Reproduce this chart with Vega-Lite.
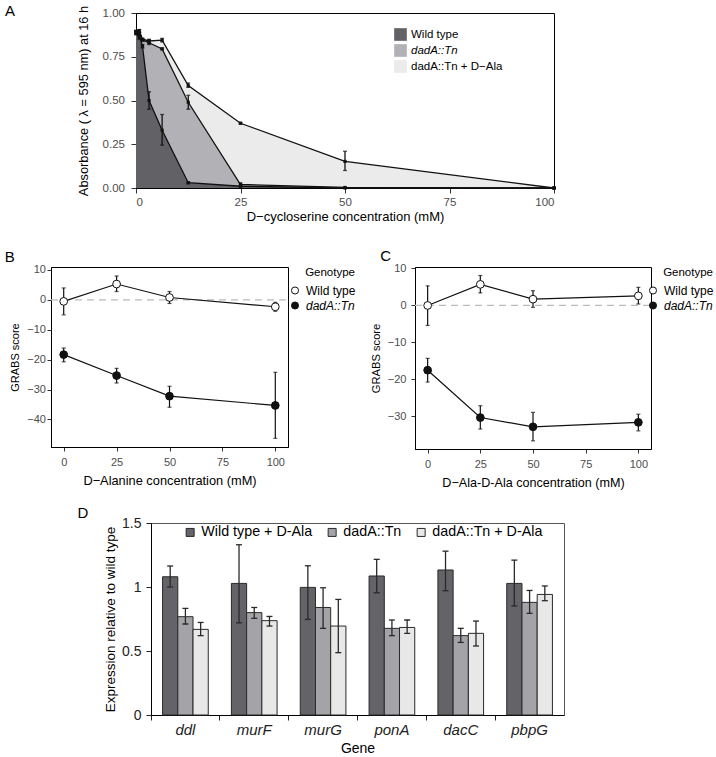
{
  "$schema": "https://vega.github.io/schema/vega-lite/v6.json",
  "background": "white",
  "padding": {"left": 3, "top": 3, "right": 0, "bottom": 0},
  "config": {
    "font": "Liberation Sans",
    "view": {"stroke": "black", "strokeWidth": 1},
    "axis": {"grid": false, "domainColor": "black", "tickColor": "#333333", "tickSize": 4, "labelColor": "#4d4d4d", "labelFontSize": 11, "titleFontSize": 12.8, "titleFontWeight": "normal", "titleColor": "black", "labelPadding": 3, "labelOverlap": false},
    "legend": {"titleFontWeight": "normal", "labelFontSize": 12, "titleFontSize": 11.5, "labelColor": "black", "padding": 0},
    "title": {"fontSize": 15, "fontWeight": "normal", "anchor": "start", "frame": "bounds"}
  },
  "resolve": {"scale": {"fill": "independent"}, "legend": {"fill": "independent"}},
  "spacing": 24,
  "vconcat": [
    {
      "resolve": {"scale": {"fill": "independent"}, "legend": {"fill": "independent"}},
      "spacing": 0,
      "hconcat": [
        {"width": 1, "height": 10, "view": {"stroke": null}, "data": {"values": []}, "mark": {"type": "point", "opacity": 0}},
        {
          "width": 418, "height": 175,
          "title": {"text": "A", "dx": -72, "offset": -13.5},
          "data": {"values": [
            {"conc": 0, "series": "Wild type", "abs": 0.89, "lo": 0.875, "hi": 0.9},
            {"conc": 0.78, "series": "Wild type", "abs": 0.88, "lo": 0.87, "hi": 0.89},
            {"conc": 1.56, "series": "Wild type", "abs": 0.81, "lo": 0.8, "hi": 0.82},
            {"conc": 3.125, "series": "Wild type", "abs": 0.5, "lo": 0.45, "hi": 0.55},
            {"conc": 6.25, "series": "Wild type", "abs": 0.33, "lo": 0.245, "hi": 0.42},
            {"conc": 12.5, "series": "Wild type", "abs": 0.03, "lo": 0.025, "hi": 0.035},
            {"conc": 25, "series": "Wild type", "abs": 0.01, "lo": 0.008, "hi": 0.012},
            {"conc": 50, "series": "Wild type", "abs": 0.0, "lo": 0.0, "hi": 0.0},
            {"conc": 100, "series": "Wild type", "abs": 0.0, "lo": 0.0, "hi": 0.0},
            {"conc": 0, "series": "dadA::Tn", "abs": 0.89, "lo": 0.88, "hi": 0.9},
            {"conc": 0.78, "series": "dadA::Tn", "abs": 0.86, "lo": 0.85, "hi": 0.87},
            {"conc": 1.56, "series": "dadA::Tn", "abs": 0.845, "lo": 0.84, "hi": 0.85},
            {"conc": 3.125, "series": "dadA::Tn", "abs": 0.83, "lo": 0.82, "hi": 0.845},
            {"conc": 6.25, "series": "dadA::Tn", "abs": 0.795, "lo": 0.79, "hi": 0.8},
            {"conc": 12.5, "series": "dadA::Tn", "abs": 0.49, "lo": 0.45, "hi": 0.53},
            {"conc": 25, "series": "dadA::Tn", "abs": 0.02, "lo": 0.01, "hi": 0.03},
            {"conc": 50, "series": "dadA::Tn", "abs": 0.003, "lo": 0.003, "hi": 0.003},
            {"conc": 100, "series": "dadA::Tn", "abs": 0.0, "lo": 0.0, "hi": 0.0},
            {"conc": 0, "series": "dadA::Tn + D−Ala", "abs": 0.89, "lo": 0.88, "hi": 0.9},
            {"conc": 0.78, "series": "dadA::Tn + D−Ala", "abs": 0.9, "lo": 0.89, "hi": 0.905},
            {"conc": 1.56, "series": "dadA::Tn + D−Ala", "abs": 0.85, "lo": 0.845, "hi": 0.855},
            {"conc": 3.125, "series": "dadA::Tn + D−Ala", "abs": 0.84, "lo": 0.83, "hi": 0.85},
            {"conc": 6.25, "series": "dadA::Tn + D−Ala", "abs": 0.845, "lo": 0.835, "hi": 0.855},
            {"conc": 12.5, "series": "dadA::Tn + D−Ala", "abs": 0.585, "lo": 0.575, "hi": 0.6},
            {"conc": 25, "series": "dadA::Tn + D−Ala", "abs": 0.37, "lo": 0.365, "hi": 0.375},
            {"conc": 50, "series": "dadA::Tn + D−Ala", "abs": 0.152, "lo": 0.1, "hi": 0.21},
            {"conc": 100, "series": "dadA::Tn + D−Ala", "abs": 0.0, "lo": 0.0, "hi": 0.0}
          ]},
          "encoding": {
            "x": {"field": "conc", "type": "quantitative", "scale": {"domain": [0, 100], "nice": false}, "axis": {"values": [0, 25, 50, 75, 100], "title": "D−cycloserine concentration (mM)", "titleFontSize": 13, "titlePadding": 2, "tickSize": 5, "labelPadding": 3.5, "labelFontSize": 11.5}},
            "y": {"field": "abs", "type": "quantitative", "scale": {"domain": [0, 1], "nice": false}, "axis": {"values": [0, 0.25, 0.5, 0.75, 1], "format": ".2f", "title": "Absorbance ( λ = 595 nm) at 16 h", "titleFontSize": 12.8, "titlePadding": 12, "tickSize": 5, "labelPadding": 6.5, "labelFontSize": 11.5}}
          },
          "layer": [
            {"transform": [{"filter": "datum.series === 'dadA::Tn + D−Ala'"}], "mark": {"type": "area", "opacity": 1}, "encoding": {"fill": {"field": "series", "type": "nominal", "scale": {"domain": ["Wild type", "dadA::Tn", "dadA::Tn + D−Ala"], "range": ["#616166", "#b2b2b6", "#ebebeb"]}, "legend": {"title": null, "orient": "none", "direction": "vertical", "legendX": 258, "legendY": 15, "symbolType": "square", "symbolSize": 160, "symbolStrokeWidth": 0, "labelFontSize": 11.5, "rowPadding": 3, "labelOffset": 4, "labelFontStyle": {"expr": "datum.value === 'dadA::Tn' ? 'italic' : 'normal'"}}}}},
            {"transform": [{"filter": "datum.series === 'dadA::Tn'"}], "mark": {"type": "area", "opacity": 1}, "encoding": {"fill": {"field": "series", "type": "nominal"}}},
            {"transform": [{"filter": "datum.series === 'Wild type'"}], "mark": {"type": "area", "opacity": 1}, "encoding": {"fill": {"field": "series", "type": "nominal"}}},
            {"mark": {"type": "line", "color": "#111111", "strokeWidth": 1.3}, "encoding": {"detail": {"field": "series", "type": "nominal"}}},
            {"mark": {"type": "errorbar", "ticks": {"size": 4, "color": "#111111"}, "color": "#111111", "thickness": 1.3}, "encoding": {"y": {"field": "lo", "type": "quantitative", "title": "Absorbance ( λ = 595 nm) at 16 h"}, "y2": {"field": "hi"}}},
            {"mark": {"type": "square", "size": 10, "color": "#111111", "opacity": 1}}
          ]
        }
      ]
    },
    {
      "resolve": {"scale": {"fill": "independent"}, "legend": {"fill": "independent"}},
      "spacing": 15,
      "vconcat": [
        {
          "resolve": {"scale": {"fill": "independent"}, "legend": {"fill": "independent"}},
          "spacing": 0,
          "hconcat": [
            {"width": 1, "height": 10, "view": {"stroke": null}, "data": {"values": []}, "mark": {"type": "point", "opacity": 0}},
            {
              "resolve": {"legend": {"fill": "independent"}, "scale": {"fill": "independent"}},
              "spacing": 12,
              "hconcat": [
                {
                  "width": 237, "height": 180,
                  "title": {"text": "B", "dx": -5, "offset": -1.5},
                  "data": {"values": [
                    {"conc": 0, "genotype": "Wild type", "score": -0.5, "lo": -5.0, "hi": 4.0},
                    {"conc": 25, "genotype": "Wild type", "score": 5.3, "lo": 2.8, "hi": 8.0},
                    {"conc": 50, "genotype": "Wild type", "score": 0.8, "lo": -1.2, "hi": 2.8},
                    {"conc": 100, "genotype": "Wild type", "score": -2.3, "lo": -3.8, "hi": -0.8},
                    {"conc": 0, "genotype": "dadA::Tn", "score": -18.3, "lo": -20.7, "hi": -16.1},
                    {"conc": 25, "genotype": "dadA::Tn", "score": -25.3, "lo": -27.8, "hi": -22.9},
                    {"conc": 50, "genotype": "dadA::Tn", "score": -32.2, "lo": -35.9, "hi": -28.9},
                    {"conc": 100, "genotype": "dadA::Tn", "score": -35.3, "lo": -46.3, "hi": -24.2}
                  ]},
                  "encoding": {
                    "x": {"field": "conc", "type": "quantitative", "scale": {"domain": [-6, 106], "nice": false, "zero": false}, "axis": {"values": [0, 25, 50, 75, 100], "title": "D−Alanine concentration (mM)", "titlePadding": 7, "labelPadding": 5.5, "titleFontSize": 12.8, "labelOverlap": false}},
                    "y": {"field": "score", "type": "quantitative", "scale": {"domain": [-49.2, 11], "nice": false, "zero": false}, "axis": {"values": [10, 0, -10, -20, -30, -40], "title": "GRABS score", "titlePadding": 6, "labelPadding": 1.5, "titleFontSize": 11, "labelOverlap": false}}
                  },
                  "layer": [
                    {"data": {"values": [{"ref": 0, "xa": -6, "xb": 106}]}, "mark": {"type": "rule", "color": "#bbbbbb", "strokeDash": [7, 5], "strokeWidth": 1.3}, "encoding": {"x": {"field": "xa", "type": "quantitative", "title": "D−Alanine concentration (mM)"}, "x2": {"field": "xb"}, "y": {"field": "ref", "type": "quantitative", "title": "GRABS score"}}},
                    {"mark": {"type": "line", "color": "#111111", "strokeWidth": 1.2}, "encoding": {"detail": {"field": "genotype", "type": "nominal"}}},
                    {"mark": {"type": "errorbar", "ticks": {"size": 4, "color": "#111111"}, "color": "#111111", "thickness": 1.2}, "encoding": {"y": {"field": "lo", "type": "quantitative", "title": "GRABS score"}, "y2": {"field": "hi"}}},
                    {"mark": {"type": "point", "filled": true, "size": 60, "stroke": "#111111", "strokeWidth": 1, "opacity": 1}, "encoding": {
                      "fill": {"field": "genotype", "type": "nominal", "scale": {"domain": ["Wild type", "dadA::Tn"], "range": ["white", "#111111"]}, "legend": {"title": "Genotype", "orient": "right", "offset": 1, "titleAnchor": "end", "symbolType": "circle", "symbolSize": 50, "symbolStrokeColor": "#111111", "symbolStrokeWidth": 1, "rowPadding": 3, "titlePadding": 6, "labelOffset": 5, "labelFontStyle": {"expr": "datum.value === 'dadA::Tn' ? 'italic' : 'normal'"}}}
                    }}
                  ]
                },
                {
                  "width": 236, "height": 182,
                  "title": {"text": "C", "dx": 10, "offset": -1.5},
                  "data": {"values": [
                    {"conc": 0, "genotype": "Wild type", "score": 0.0, "lo": -5.4, "hi": 5.3},
                    {"conc": 25, "genotype": "Wild type", "score": 5.7, "lo": 3.4, "hi": 8.1},
                    {"conc": 50, "genotype": "Wild type", "score": 1.7, "lo": -0.5, "hi": 4.0},
                    {"conc": 100, "genotype": "Wild type", "score": 2.6, "lo": 0.4, "hi": 4.9},
                    {"conc": 0, "genotype": "dadA::Tn", "score": -17.5, "lo": -20.7, "hi": -14.3},
                    {"conc": 25, "genotype": "dadA::Tn", "score": -30.3, "lo": -33.4, "hi": -27.1},
                    {"conc": 50, "genotype": "dadA::Tn", "score": -32.8, "lo": -36.6, "hi": -28.9},
                    {"conc": 100, "genotype": "dadA::Tn", "score": -31.6, "lo": -33.9, "hi": -29.4}
                  ]},
                  "encoding": {
                    "x": {"field": "conc", "type": "quantitative", "scale": {"domain": [-6, 106], "nice": false, "zero": false}, "axis": {"values": [0, 25, 50, 75, 100], "title": "D−Ala-D-Ala concentration (mM)", "titlePadding": 7, "labelPadding": 5.5, "titleFontSize": 12.6, "labelOverlap": false}},
                    "y": {"field": "score", "type": "quantitative", "scale": {"domain": [-38.8, 10.4], "nice": false, "zero": false}, "axis": {"values": [10, 0, -10, -20, -30], "title": "GRABS score", "titlePadding": 6, "labelPadding": 5, "titleFontSize": 11.2, "labelOverlap": false}}
                  },
                  "layer": [
                    {"data": {"values": [{"ref": 0, "xa": -6, "xb": 106}]}, "mark": {"type": "rule", "color": "#bbbbbb", "strokeDash": [7, 5], "strokeWidth": 1.3}, "encoding": {"x": {"field": "xa", "type": "quantitative", "title": "D−Ala-D-Ala concentration (mM)"}, "x2": {"field": "xb"}, "y": {"field": "ref", "type": "quantitative", "title": "GRABS score"}}},
                    {"mark": {"type": "line", "color": "#111111", "strokeWidth": 1.2}, "encoding": {"detail": {"field": "genotype", "type": "nominal"}}},
                    {"mark": {"type": "errorbar", "ticks": {"size": 4, "color": "#111111"}, "color": "#111111", "thickness": 1.2}, "encoding": {"y": {"field": "lo", "type": "quantitative", "title": "GRABS score"}, "y2": {"field": "hi"}}},
                    {"mark": {"type": "point", "filled": true, "size": 60, "stroke": "#111111", "strokeWidth": 1, "opacity": 1}, "encoding": {
                      "fill": {"field": "genotype", "type": "nominal", "scale": {"domain": ["Wild type", "dadA::Tn"], "range": ["white", "#111111"]}, "legend": {"title": "Genotype", "orient": "right", "offset": -4, "titleAnchor": "end", "symbolType": "circle", "symbolSize": 50, "symbolStrokeColor": "#111111", "symbolStrokeWidth": 1, "rowPadding": 3, "titlePadding": 6, "labelOffset": 5, "labelFontStyle": {"expr": "datum.value === 'dadA::Tn' ? 'italic' : 'normal'"}}}
                    }}
                  ]
                }
              ]
            }
          ]
        },
        {
          "resolve": {"scale": {"fill": "independent"}, "legend": {"fill": "independent"}},
          "spacing": 0,
          "hconcat": [
            {"width": 74, "height": 10, "view": {"stroke": null}, "data": {"values": []}, "mark": {"type": "point", "opacity": 0}},
            {
              "width": 413, "height": 192,
              "title": {"text": "D", "dx": -26, "offset": -4.5},
              "view": {"stroke": "#555555"},
              "data": {"values": [
                {"gene": "ddl", "group": "Wild type + D-Ala", "expr": 1.08, "lo": 1.0, "hi": 1.164},
                {"gene": "ddl", "group": "dadA::Tn", "expr": 0.768, "lo": 0.711, "hi": 0.833},
                {"gene": "ddl", "group": "dadA::Tn + D-Ala", "expr": 0.669, "lo": 0.62, "hi": 0.723},
                {"gene": "murF", "group": "Wild type + D-Ala", "expr": 1.028, "lo": 0.72, "hi": 1.33},
                {"gene": "murF", "group": "dadA::Tn", "expr": 0.8, "lo": 0.755, "hi": 0.84},
                {"gene": "murF", "group": "dadA::Tn + D-Ala", "expr": 0.737, "lo": 0.695, "hi": 0.77},
                {"gene": "murG", "group": "Wild type + D-Ala", "expr": 0.997, "lo": 0.747, "hi": 1.166},
                {"gene": "murG", "group": "dadA::Tn", "expr": 0.84, "lo": 0.677, "hi": 0.994},
                {"gene": "murG", "group": "dadA::Tn + D-Ala", "expr": 0.695, "lo": 0.487, "hi": 0.903},
                {"gene": "ponA", "group": "Wild type + D-Ala", "expr": 1.086, "lo": 0.955, "hi": 1.216},
                {"gene": "ponA", "group": "dadA::Tn", "expr": 0.677, "lo": 0.62, "hi": 0.742},
                {"gene": "ponA", "group": "dadA::Tn + D-Ala", "expr": 0.684, "lo": 0.638, "hi": 0.742},
                {"gene": "dacC", "group": "Wild type + D-Ala", "expr": 1.133, "lo": 0.971, "hi": 1.28},
                {"gene": "dacC", "group": "dadA::Tn", "expr": 0.62, "lo": 0.567, "hi": 0.677},
                {"gene": "dacC", "group": "dadA::Tn + D-Ala", "expr": 0.638, "lo": 0.539, "hi": 0.734},
                {"gene": "pbpG", "group": "Wild type + D-Ala", "expr": 1.028, "lo": 0.852, "hi": 1.21},
                {"gene": "pbpG", "group": "dadA::Tn", "expr": 0.88, "lo": 0.794, "hi": 0.973},
                {"gene": "pbpG", "group": "dadA::Tn + D-Ala", "expr": 0.942, "lo": 0.893, "hi": 1.008}
              ]},
              "encoding": {
                "x": {"field": "gene", "type": "nominal", "sort": null, "scale": {"paddingInner": 0, "paddingOuter": 0}, "axis": {"title": "Gene", "titleFontSize": 14, "titlePadding": 4, "labelAngle": 0, "labelFontSize": 15, "labelFontStyle": "italic", "labelColor": "#222222", "bandPosition": 0, "tickSize": 5, "tickColor": "#222222", "labelPadding": 2.5}},
                "xOffset": {"field": "group", "type": "nominal", "sort": null, "scale": {"paddingInner": 0, "paddingOuter": 0.76}}
              },
              "layer": [
                {"mark": {"type": "bar", "stroke": "#2a2a2a", "strokeWidth": 1}, "encoding": {
                  "y": {"field": "expr", "type": "quantitative", "scale": {"domain": [0, 1.5], "nice": false}, "axis": {"values": [0, 0.5, 1, 1.5], "format": "~g", "titleFontSize": 13.5, "labelFontSize": 14, "labelColor": "#222222", "tickColor": "#222222", "tickSize": 5, "labelPadding": 5, "titlePadding": 4}, "title": "Expression relative to wild type"},
                  "fill": {"field": "group", "type": "nominal", "sort": null, "scale": {"domain": ["Wild type + D-Ala", "dadA::Tn", "dadA::Tn + D-Ala"], "range": ["#636368", "#a4a4a8", "#e8e8e8"]}, "legend": {"title": null, "orient": "none", "direction": "horizontal", "legendX": 32, "legendY": 2, "symbolType": "square", "symbolSize": 64, "symbolStrokeColor": "#2a2a2a", "symbolStrokeWidth": 1, "labelFontSize": 14.3, "columnPadding": 12, "labelOffset": 4}}
                }},
                {"mark": {"type": "rule", "color": "#2a2a2a", "strokeWidth": 1.3}, "encoding": {"y": {"field": "lo", "type": "quantitative", "title": "Expression relative to wild type"}, "y2": {"field": "hi"}}},
                {"mark": {"type": "tick", "color": "#2a2a2a", "thickness": 1.3, "size": 6, "orient": "horizontal", "opacity": 1}, "encoding": {"y": {"field": "lo", "type": "quantitative", "title": "Expression relative to wild type"}}},
                {"mark": {"type": "tick", "color": "#2a2a2a", "thickness": 1.3, "size": 6, "orient": "horizontal", "opacity": 1}, "encoding": {"y": {"field": "hi", "type": "quantitative", "title": "Expression relative to wild type"}}}
              ]
            }
          ]
        }
      ]
    }
  ]
}
